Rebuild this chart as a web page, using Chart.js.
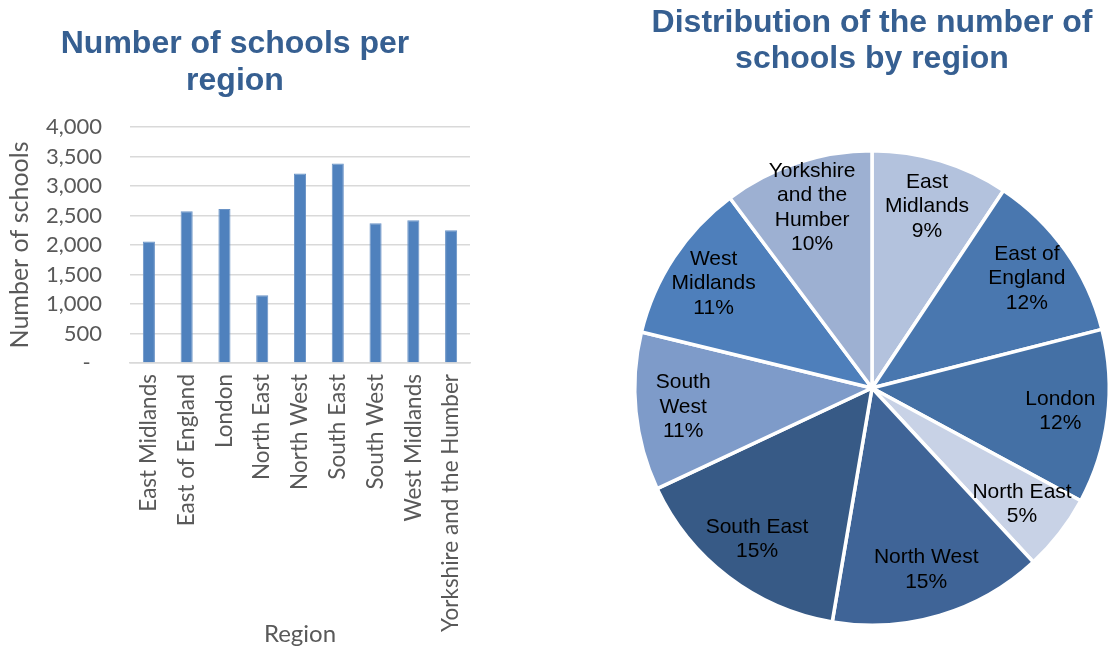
<!DOCTYPE html>
<html>
<head>
<meta charset="utf-8">
<script src="https://cdn.jsdelivr.net/npm/chart.js@4"></script>
<style>
  html, body { margin: 0; padding: 0; background: #fff; overflow: hidden; }
  body { width: 1110px; height: 652px; position: relative; }
  .box { position: absolute; top: 0; }
  #barBox { left: 0; width: 475px; height: 652px; }
  #pieBox { left: 620px; width: 500px; height: 652px; }
</style>
</head>
<body>
<div class="box" id="barBox"><canvas id="barChart"></canvas></div>
<div class="box" id="pieBox"><canvas id="pieChart"></canvas></div>
<script>
// Regions and number of schools
const regions = ['East Midlands', 'East of England', 'London', 'North East', 'North West',
  'South East', 'South West', 'West Midlands', 'Yorkshire and the Humber'];
const schools = [2060, 2570, 2610, 1150, 3210, 3380, 2370, 2420, 2250];

// Wrapped names for the labels inside the pie
const pieNames = ['East\nMidlands', 'East of\nEngland', 'London', 'North East', 'North West',
  'South East', 'South\nWest', 'West\nMidlands', 'Yorkshire\nand the\nHumber'];
const pieColors = ['#B3C2DD', '#4977AF', '#4470A5', '#C8D2E6', '#3F6497',
  '#375A86', '#7E9BC9', '#4E7FBB', '#9DB0D2'];

const yTicks = [0, 500, 1000, 1500, 2000, 2500, 3000, 3500, 4000];

const titleColor = '#365F91';
const greyText = '#595959';
const gridGrey = '#D9D9D9';

// Bar chart
new Chart(document.getElementById('barChart'), {
  type: 'bar',
  data: {
    labels: regions,
    datasets: [{
      label: 'Number of schools',
      data: schools,
      backgroundColor: '#4F81BD',
      borderColor: '#6A93C6',
      borderWidth: { left: 1, right: 1, top: 1, bottom: 0 },
      barPercentage: 0.4,
      categoryPercentage: 0.8
    }]
  },
  options: {
    responsive: true,
    maintainAspectRatio: false,
    animation: false,
    layout: { padding: { left: 0, right: 5, top: 0, bottom: 0 } },
    scales: {
      y: {
        min: 0,
        max: 4000,
        afterBuildTicks: function (scale) {
          scale.ticks = yTicks.map(v => ({ value: v }));
        },
        afterFit: function (scale) { scale.width = 130; },
        border: { display: false },
        grid: { color: gridGrey, lineWidth: 1.5, drawTicks: false },
        ticks: {
          color: greyText,
          font: { family: 'Lato', size: 22 },
          padding: 28,
          callback: function (value) {
            return value === 0 ? '-  ' : value.toLocaleString('en-GB');
          }
        },
        title: {
          display: true,
          text: 'Number of schools',
          color: greyText,
          font: { family: 'Lato', size: 25 },
          padding: { top: 5, bottom: 0 }
        }
      },
      x: {
        afterFit: function (scale) {
          // keep the plot running to the right edge
          scale.height = 289;
          scale.paddingLeft = 0;
          scale.paddingRight = 0;
        },
        border: { color: gridGrey, width: 1.5 },
        grid: { display: false },
        ticks: {
          color: greyText,
          font: { family: 'Lato', size: 22.5 },
          minRotation: 90,
          maxRotation: 90,
          padding: 3,
          autoSkip: false
        },
        title: {
          display: true,
          text: 'Region',
          color: greyText,
          font: { family: 'Lato', size: 24 },
          padding: { top: 0, bottom: 3 }
        }
      }
    },
    plugins: {
      legend: { display: false },
      tooltip: { enabled: false },
      title: {
        display: true,
        text: ['Number of schools per', 'region'],
        color: titleColor,
        font: { family: 'Liberation Sans', size: 32, weight: 'bold', lineHeight: 37 / 32 },
        padding: { top: 26, bottom: 27 }
      }
    }
  }
});

// Draws name and share of each slice inside the pie
const sliceLabels = {
  id: 'sliceLabels',
  afterDatasetsDraw(chart) {
    const meta = chart.getDatasetMeta(0);
    const values = chart.data.datasets[0].data;
    const total = values.reduce((a, b) => a + b, 0);
    const ctx = chart.ctx;
    ctx.save();
    ctx.font = '21px "Liberation Sans", Arial, sans-serif';
    ctx.fillStyle = '#000';
    ctx.textAlign = 'center';
    ctx.textBaseline = 'middle';
    meta.data.forEach((arc, i) => {
      const mid = (arc.startAngle + arc.endAngle) / 2;
      const r = arc.outerRadius * 0.8;
      const x = arc.x + Math.cos(mid) * r;
      const y = arc.y + Math.sin(mid) * r;
      const lines = pieNames[i].split('\n');
      lines.push(Math.round(values[i] / total * 100) + '%');
      const lh = 24.5;
      const startY = y - (lines.length - 1) * lh / 2;
      lines.forEach((t, k) => ctx.fillText(t, x, startY + k * lh));
    });
    ctx.restore();
  }
};

// Pie chart
new Chart(document.getElementById('pieChart'), {
  type: 'pie',
  data: {
    labels: regions,
    datasets: [{
      data: schools,
      backgroundColor: pieColors,
      borderColor: '#FFFFFF',
      borderWidth: 3.5
    }]
  },
  options: {
    responsive: true,
    maintainAspectRatio: false,
    animation: false,
    layout: { padding: { left: 13, right: 9, top: 0, bottom: 25 } },
    plugins: {
      legend: { display: false },
      tooltip: { enabled: false },
      title: {
        display: true,
        text: ['Distribution of the number of', 'schools by region'],
        color: titleColor,
        font: { family: 'Liberation Sans', size: 32, weight: 'bold', lineHeight: 36 / 32 },
        padding: { top: 5, bottom: 72 }
      }
    }
  },
  plugins: [sliceLabels]
});
</script>
</body>
</html>
